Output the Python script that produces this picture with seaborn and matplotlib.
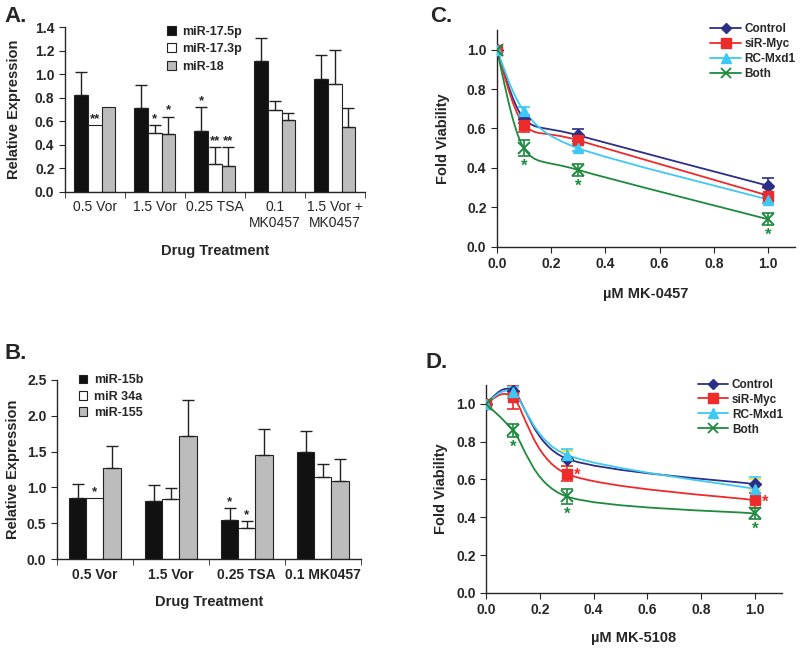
import numpy as np
import pandas as pd
import matplotlib
matplotlib.use('Agg')
import matplotlib.pyplot as plt
import seaborn as sns
from matplotlib.path import Path
from matplotlib.patches import PathPatch, Patch
from matplotlib.lines import Line2D

# ---- data: panel A (bars)
groups_a = ['0.5 Vor', '1.5 Vor', '0.25 TSA', '0.1\nMK0457', '1.5 Vor +\nMK0457']
mirs_a = ['miR-17.5p', 'miR-17.3p', 'miR-18']
mean_a = [[0.82, 0.71, 0.52, 1.11, 0.96],
          [0.57, 0.50, 0.24, 0.70, 0.92],
          [0.72, 0.49, 0.22, 0.61, 0.55]]
err_a = [[0.20, 0.20, 0.20, 0.20, 0.20],
         [0.00, 0.07, 0.14, 0.07, 0.29],
         [0.00, 0.15, 0.16, 0.06, 0.16]]
stars_a = [['', '', '*', '', ''],
           ['**', '*', '**', '', ''],
           ['', '*', '**', '', '']]

# ---- data: panel B (bars)
groups_b = ['0.5 Vor', '1.5 Vor', '0.25 TSA', '0.1 MK0457']
mirs_b = ['miR-15b', 'miR 34a', 'miR-155']
mean_b = [[0.85, 0.81, 0.55, 1.50],
          [0.85, 0.84, 0.43, 1.14],
          [1.27, 1.71, 1.45, 1.09]]
err_b = [[0.20, 0.23, 0.16, 0.29],
         [0.02, 0.15, 0.10, 0.19],
         [0.31, 0.51, 0.36, 0.31]]
stars_b = [['', '', '*', ''],
           ['*', '', '*', ''],
           ['', '', '', '']]

# ---- data: panels C and D (viability curves)
dose = [0.0, 0.1, 0.3, 1.0]
series = ['Control', 'siR-Myc', 'RC-Mxd1', 'Both']
via_c = {'Control': [1.0, 0.65, 0.565, 0.31],
         'siR-Myc': [1.0, 0.62, 0.54, 0.26],
         'RC-Mxd1': [1.0, 0.69, 0.50, 0.24],
         'Both': [1.0, 0.50, 0.39, 0.14]}
sd_c = {'Control': [0.0, 0.02, 0.03, 0.04],
        'siR-Myc': [0.0, 0.04, 0.02, 0.04],
        'RC-Mxd1': [0.0, 0.02, 0.015, 0.02],
        'Both': [0.0, 0.04, 0.03, 0.03]}
via_d = {'Control': [1.0, 1.07, 0.71, 0.575],
         'siR-Myc': [1.0, 1.035, 0.63, 0.49],
         'RC-Mxd1': [1.0, 1.06, 0.73, 0.55],
         'Both': [1.0, 0.86, 0.51, 0.42]}
sd_d = {'Control': [0.0, 0.03, 0.04, 0.03],
        'siR-Myc': [0.0, 0.065, 0.04, 0.04],
        'RC-Mxd1': [0.0, 0.03, 0.03, 0.065],
        'Both': [0.0, 0.035, 0.04, 0.03]}

colors = {'Control': '#2b2f86', 'siR-Myc': '#ee2a2a', 'RC-Mxd1': '#3ec8f4', 'Both': '#1e8a3e'}
markers = {'Control': 'D', 'siR-Myc': 's', 'RC-Mxd1': '^', 'Both': 'x'}

sns.set_style('ticks')
plt.rcParams['font.family'] = ['Liberation Sans', 'DejaVu Sans']
plt.rcParams['axes.linewidth'] = 1.0

fig = plt.figure(figsize=(8, 6.48), dpi=100)


def bar_panel(ax, groups, mirs, means, errs, stars, bold_x, ypad):
    rows = []
    for i, m in enumerate(mirs):
        for j, g in enumerate(groups):
            rows.append({'group': g, 'mir': m, 'value': means[i][j]})
    df = pd.DataFrame(rows)
    sns.barplot(data=df, x='group', y='value', hue='mir', ax=ax,
                palette=['#111111', '#ffffff', '#bcbcbc'], width=0.68,
                errorbar=None, edgecolor='#222222', linewidth=0.8, legend=False)
    bar_sets = list(ax.containers)
    for i, cont in enumerate(bar_sets):
        for j, bar in enumerate(cont):
            xc = bar.get_x() + bar.get_width() / 2
            h = bar.get_height()
            if errs[i][j] > 0.03:
                ax.errorbar(xc, h, yerr=[[0], [errs[i][j]]], color='#222222',
                            lw=1.0, capsize=4, capthick=1.0, zorder=1)
            if stars[i][j]:
                top = h + (errs[i][j] if errs[i][j] > 0.03 else 0)
                ax.text(xc, top, stars[i][j], ha='center', va='bottom',
                        fontsize=9.5, fontweight='bold')
    ax.set_xlim(-0.5, len(groups) - 0.5)
    ax.set_xticks(range(len(groups)))
    ax.set_xticklabels(groups, fontsize=10, fontweight='bold' if bold_x else 'normal')
    ax.set_xticks(np.arange(-0.5, len(groups), 1.0), minor=True)
    ax.tick_params(axis='x', which='major', length=0, pad=6)
    ax.tick_params(axis='x', which='minor', length=4, direction='out')
    ax.tick_params(axis='y', labelsize=10, length=4)
    for t in ax.get_yticklabels():
        t.set_fontweight('bold')
    ax.set_ylabel('Relative Expression', fontsize=10.5, fontweight='bold', labelpad=ypad)
    ax.set_xlabel('Drug Treatment', fontsize=10.5, fontweight='bold', labelpad=10)
    sns.despine(ax=ax)
    handles = [Patch(facecolor=c, edgecolor='#222222', lw=0.8)
               for c in ['#111111', '#ffffff', '#bcbcbc']]
    return handles


def smooth_line(ax, xs, ys, color):
    # Excel-style smoothed line: cubic Bezier through the data points
    pts = np.column_stack([xs, ys])
    verts = [pts[0]]
    codes = [Path.MOVETO]
    n = len(pts)
    for k in range(n - 1):
        p0 = pts[max(k - 1, 0)]
        p1 = pts[k]
        p2 = pts[k + 1]
        p3 = pts[min(k + 2, n - 1)]
        verts += [p1 + (p2 - p0) / 7, p2 - (p3 - p1) / 7, p2]
        codes += [Path.CURVE4] * 3
    ax.add_patch(PathPatch(Path(verts, codes), fill=False, edgecolor=color, lw=1.3, zorder=2))


def line_panel(ax, vals, sds, errcolors, xlabel, star_pts, xpad, ypad):
    for s in series:
        smooth_line(ax, dose, vals[s], colors[s])
    for s in series:
        ax.errorbar(dose[1:], vals[s][1:], yerr=sds[s][1:], fmt='none',
                    ecolor=errcolors[s], elinewidth=1.2, capsize=4, capthick=1.2, zorder=3)
    for s in series:
        if s == 'Both':
            ax.plot(dose, vals[s], ls='none', marker='x', ms=8, mew=1.4,
                    color=colors[s], zorder=4)
        else:
            ax.plot(dose, vals[s], ls='none', marker=markers[s],
                    ms=6 if s == 'Control' else 7, color=colors[s], zorder=4)
    for s, idx, where in star_pts:
        x = dose[idx]
        y = vals[s][idx]
        if where == 'below':
            ax.text(x, y - sds[s][idx] - 0.015, '*', ha='center', va='top',
                    fontsize=12, fontweight='bold', color=colors[s])
        else:
            ax.text(x + 0.025, y - 0.01, '*', ha='left', va='center',
                    fontsize=12, fontweight='bold', color=colors[s])
    ax.set_xlim(0, 1.1)
    ax.set_ylim(0, 1.1)
    ax.set_xticks(np.arange(0, 1.01, 0.2))
    ax.set_yticks(np.arange(0, 1.01, 0.2))
    ax.xaxis.set_major_formatter(matplotlib.ticker.FormatStrFormatter('%.1f'))
    ax.yaxis.set_major_formatter(matplotlib.ticker.FormatStrFormatter('%.1f'))
    ax.tick_params(labelsize=10, length=4)
    for t in ax.get_xticklabels() + ax.get_yticklabels():
        t.set_fontweight('bold')
    ax.set_ylabel('Fold Viability', fontsize=10.5, fontweight='bold', labelpad=ypad)
    ax.set_xlabel(xlabel, fontsize=10.5, fontweight='bold', labelpad=xpad)
    sns.despine(ax=ax)
    handles = []
    for s in series:
        if s == 'Both':
            handles.append(Line2D([], [], color=colors[s], lw=1.3, marker='x', ms=7, mew=1.3))
        else:
            handles.append(Line2D([], [], color=colors[s], lw=1.3, marker=markers[s],
                                  ms=5.5 if s == 'Control' else 6.5))
    ax.legend(handles, series, loc='upper left', bbox_to_anchor=(0.715, 1.03),
              frameon=False, borderaxespad=0, borderpad=0,
              handlelength=2.6, handletextpad=0.3, labelspacing=0.25,
              prop={'weight': 'bold', 'size': 8.5})


# Panel A
ax_a = fig.add_axes([0.081, 0.704, 0.375, 0.254])
ax_a.set_ylim(0, 1.4)
ax_a.set_yticks(np.arange(0, 1.41, 0.2))
ax_a.yaxis.set_major_formatter(matplotlib.ticker.FormatStrFormatter('%.1f'))
h_a = bar_panel(ax_a, groups_a, mirs_a, mean_a, err_a, stars_a, bold_x=False, ypad=10)
ax_a.legend(h_a, mirs_a, loc='upper left', bbox_to_anchor=(0.34, 1.01), frameon=False,
            borderaxespad=0, borderpad=0,
            handlelength=0.7, handleheight=0.7, handletextpad=0.5, labelspacing=0.45,
            prop={'weight': 'bold', 'size': 9})

# Panel B
ax_b = fig.add_axes([0.071, 0.137, 0.380, 0.277])
ax_b.set_ylim(0, 2.5)
ax_b.set_yticks(np.arange(0, 2.51, 0.5))
ax_b.yaxis.set_major_formatter(matplotlib.ticker.FormatStrFormatter('%.1f'))
h_b = bar_panel(ax_b, groups_b, mirs_b, mean_b, err_b, stars_b, bold_x=True, ypad=5)
ax_b.legend(h_b, mirs_b, loc='upper left', bbox_to_anchor=(0.072, 1.03), frameon=False,
            borderaxespad=0, borderpad=0,
            handlelength=0.7, handleheight=0.7, handletextpad=0.5, labelspacing=0.35,
            prop={'weight': 'bold', 'size': 9})

# Panel C
ax_c = fig.add_axes([0.621, 0.619, 0.373, 0.335])
line_panel(ax_c, via_c, sd_c, colors, 'µM MK-0457',
           [('Both', 1, 'below'), ('Both', 2, 'below'), ('Both', 3, 'below')],
           xpad=11, ypad=12)

# Panel D
ax_d = fig.add_axes([0.6075, 0.085, 0.370, 0.321])
err_d = dict(colors)
err_d['Control'] = '#f2e21c'
line_panel(ax_d, via_d, sd_d, err_d, 'µM MK-5108',
           [('Both', 1, 'below'), ('Both', 2, 'below'), ('Both', 3, 'below'),
            ('siR-Myc', 2, 'right'), ('siR-Myc', 3, 'right')],
           xpad=10, ypad=6)

# panel letters
for lab, x, y in [('A.', 0.005, 0.975), ('C.', 0.538, 0.975),
                  ('B.', 0.005, 0.455), ('D.', 0.532, 0.44)]:
    fig.text(x, y, lab, fontsize=16, fontweight='bold', va='center')

fig.savefig('out.png', dpi=100)
